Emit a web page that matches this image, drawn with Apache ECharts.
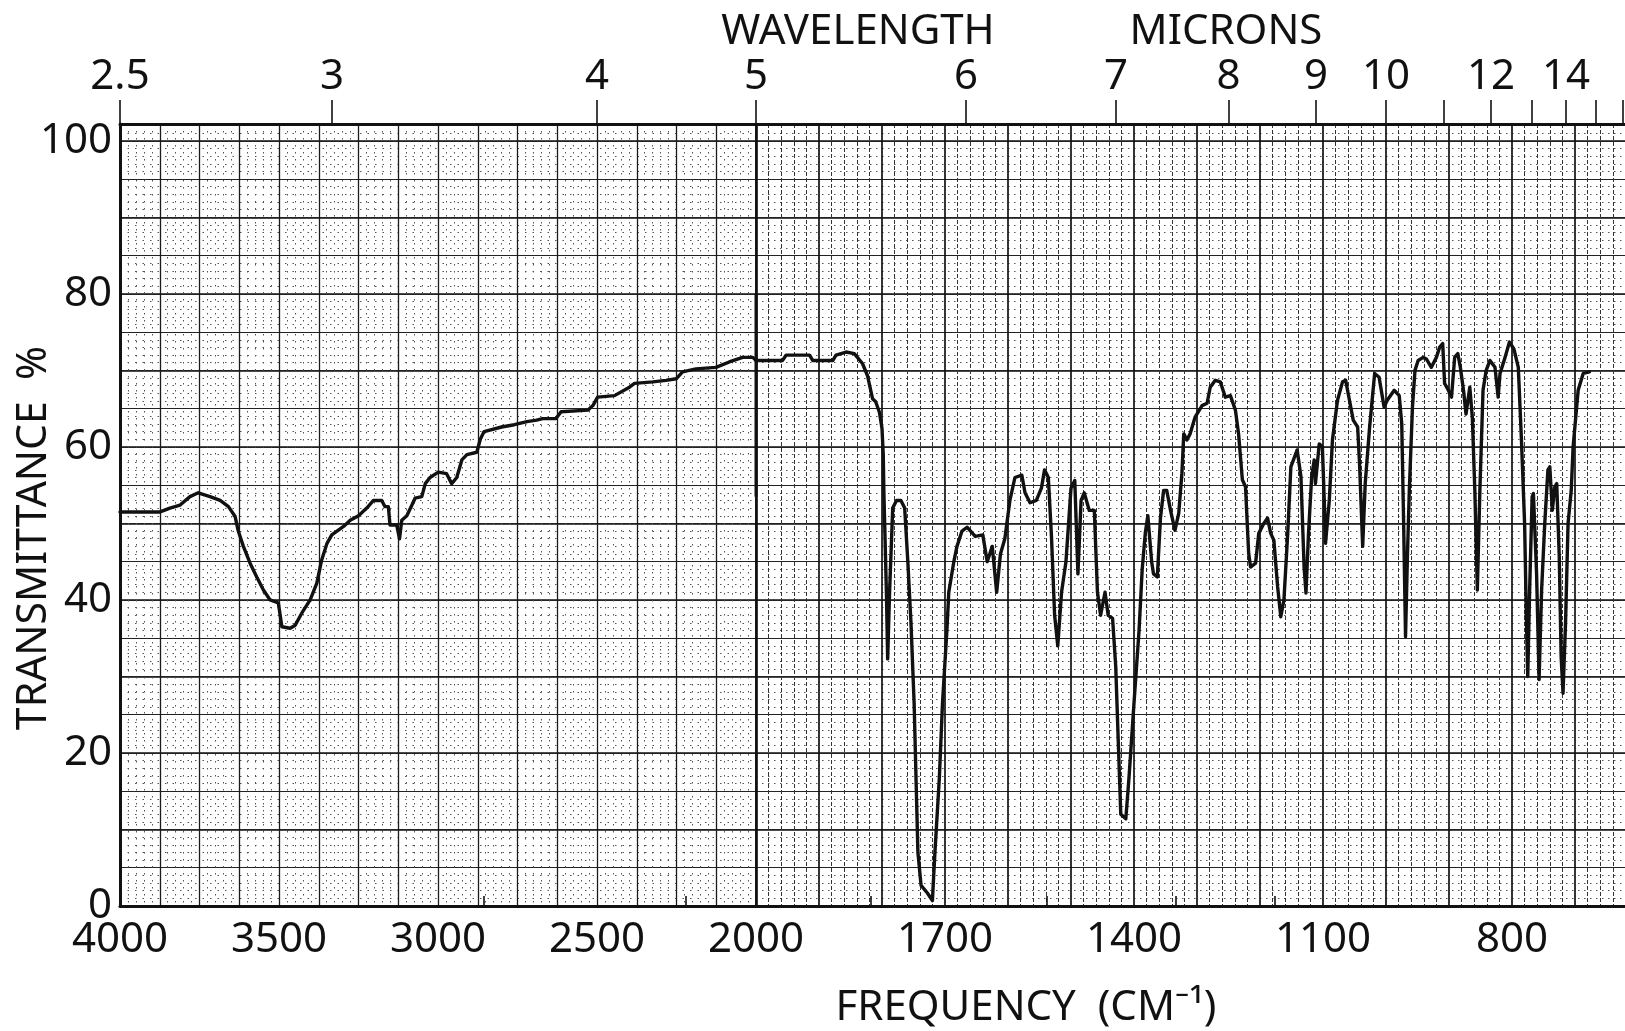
<!DOCTYPE html>
<html><head><meta charset="utf-8">
<script src="https://cdn.jsdelivr.net/npm/echarts@6/dist/echarts.min.js"></script>
<style>html,body{margin:0;padding:0;background:#fff}#chart{width:1625px;height:1031px}</style>
</head><body><div id="chart"></div>
<script>
// ---- data ----
const wavenumber = [
 4000,3950,3874,3843,3811,3780,3754,3717,3685,3659,3638,3628,3612,3591,3570,3549,3528,3502,3491,3465,3449,3428,3402,3381,3366,3349,3334,3297,3276,3250,3224,3203,3177,3167,3156,3151,3130,3121,3114,3098,3082,3072,3051,3040,3025,2999,2973,2957,2941,2925,2909,2878,2867,2855,2800,2760,2720,2690,2671,2629,2613,2529,2513,2498,2445,2398,2382,2325,2283,2251,2231,2189,2126,2084,2042,2010,2000,
 1958,1952,1915,1910,1878,1873,1857,1844,1831,1823,1815,1810,1804,1800,1798,1797,1793,1791,1788,1783,1777,1770,1764,1759,1754,1749,1746,1743,1738,1728,1720,1716,1709,1704,1697,1694,1686,1681,1673,1665,1652,1640,1633,1625,1618,1612,1605,1597,1589,1578,1573,1565,1555,1547,1542,1536,1531,1526,1521,1515,1508,1500,1494,1489,1484,1479,1471,1463,1458,1453,1446,1441,1434,1429,1425,1421,1413,1408,1400,1392,1387,1382,1378,1372,1369,1363,1358,1353,1348,1342,1335,1329,1324,1321,1316,1311,1303,1292,1284,1279,1271,1263,1255,1247,1239,1234,1228,1223,1218,1215,1207,1202,1194,1188,1183,1178,1172,1167,1162,1156,1151,1141,1135,1130,1127,1123,1118,1114,1112,1106,1101,1098,1096,1090,1085,1077,1069,1064,1058,1052,1045,1042,1037,1033,1026,1018,1011,1003,998,987,979,975,972,969,966,963,958,954,949,941,936,928,920,915,910,907,901,896,891,886,882,877,873,867,863,859,855,851,846,841,835,827,822,819,811,804,797,790,785,780,777,775,772,768,766,761,757,753,748,743,740,736,732,729,725,722,719,715,711,706,703,695,687,677
];
const transmittance = [
 51.5,51.5,51.5,52,52.4,53.5,54,53.5,53,52.2,50.9,49,47,44.8,43,41.3,40,39.6,36.5,36.3,36.7,38.3,40,42.2,45.2,47.4,48.5,49.6,50.4,51,52,53,53,52.2,52.2,49.8,49.8,48,50.4,51,52.4,53.3,53.5,55.2,56,56.7,56.5,55.2,56,58.3,59,59.3,61,62,62.6,62.9,63.3,63.5,63.7,63.7,64.6,64.8,65.4,66.5,66.7,67.8,68.3,68.5,68.7,68.9,69.8,70.2,70.4,71.1,71.7,71.7,71.3,
 71.3,72,72,71.3,71.3,72,72.4,72.2,70.9,69.3,66.3,65.9,64.5,62.4,59,54,41,32.3,41,52,53,53,52,45,37,26.5,16.7,7,2.7,1.7,0.7,7,16.7,26.5,36,41,45,47,49,49.5,48.3,48.5,45,47,41,46,48,53,56,56.3,54,52.7,53,54.6,57,56,48.3,38,34,41,45,54.6,55.6,43.4,53,54,51.7,51.7,41,38,41,38,37.6,31.3,21.6,12,11.4,16.7,26.5,36,44,48.8,51,45,43.4,43,50.7,54.3,54.3,51.7,49.1,51.3,56.5,61.7,60.9,61.7,63.9,65.4,65.7,67.8,68.7,68.5,66.5,66.7,64.8,61.7,55.7,54.8,46.1,44.3,44.8,48.7,50,50.7,48.7,47.8,41.7,37.8,40,48.7,57.4,59.6,56.1,44.3,40.9,48.7,56.1,58.3,55.2,60.4,60,53,47.4,53,60.9,66.1,68.5,68.7,66.1,63.5,62.6,57.8,47,55.2,62.6,69.6,69.1,65.2,66.1,67.4,66.7,63,50,35.2,45.7,54.3,65.2,70,71.3,71.7,71.5,70.4,71.7,73,73.5,68.3,67.4,66.5,71.7,72.2,70.4,67.4,64.3,67.8,63.9,54.3,41.3,54.3,67.4,70,71.3,70.4,66.5,69.6,71.7,73.7,72.8,70.4,60.9,50,37,30,41.3,53.5,53.9,43.5,29.6,41.3,50,57,57.4,51.7,54.8,55.2,45.7,32.6,27.8,37,50,54.3,60,67.4,69.6,69.8
];
const scaleMarkWavenumber = [2000, 2000];
const scaleMarkTransmittance = [53.5, 80];
const freqLabelsLeft = [4000, 3500, 3000, 2500, 2000];
const freqLabelsRight = [1700, 1400, 1100, 800];
const micronMajorTicks = [2.5, 3, 4, 5, 6, 7, 8, 9, 10, 11, 12, 13, 14, 15, 16];
const micronMinorTicks = [3.5, 4.5, 5.5, 6.5, 7.5, 8.5];
const micronLabels = [2.5, 3, 4, 5, 6, 7, 8, 9, 10, 12, 14];
const transmittanceLabels = [0, 20, 40, 60, 80, 100];

// ---- build ----
const FONT = "'Noto Sans', 'DejaVu Sans', sans-serif";
const INK = '#111';
const toWn = um => 10000 / um;
const leftData = [], rightData = [];
wavenumber.forEach((w, i) => {
  if (w >= 2000) leftData.push([w, transmittance[i]]);
  if (w <= 2000) rightData.push([w, transmittance[i]]);
});
const markData = scaleMarkWavenumber.map((w, i) => [w, scaleMarkTransmittance[i]]);

const leftMajor = micronMajorTicks.filter(u => u <= 5).map(toWn);
const rightMajor = micronMajorTicks.filter(u => u > 5).map(toWn);
const leftMinor = micronMinorTicks.filter(u => u <= 5).map(toWn);
const rightMinor = micronMinorTicks.filter(u => u > 5).map(toWn);
const leftLab = micronLabels.filter(u => u <= 5).map(toWn);
const rightLab = micronLabels.filter(u => u > 5).map(toWn);
const micronFmt = v => { const u = Math.round(10000 / v * 10) / 10; return String(u); };

const Y_MAX = 102.2;
const gridTop = 124, gridH = 782;
const grids = [
  {left: 120, top: gridTop, width: 636, height: gridH},
  {left: 756, top: gridTop, width: 882, height: gridH},
  {left: 120, top: gridTop, width: 636, height: gridH},
  {left: 756, top: gridTop, width: 882, height: gridH}
].map(g => Object.assign(g, {containLabel: false, outerBoundsMode: 'none', show: false}));

const labelStyle = {color: INK, fontSize: 42, fontFamily: FONT};
const hidden = {show: false};

const xAxes = [
  { gridIndex: 0, type: 'value', min: 2000, max: 4000, inverse: true, position: 'bottom', interval: 125,
    axisLine: {show: true, lineStyle: {color: INK, width: 3}}, axisTick: hidden,
    axisLabel: Object.assign({margin: 13, formatter: v => freqLabelsLeft.includes(v) ? String(v) : ''}, labelStyle),
    splitLine: {show: true, lineStyle: {color: '#1a1a1a', width: 1.3}},
    minorTick: {show: false, splitNumber: 5},
    minorSplitLine: {show: true, lineStyle: {color: '#555', width: 1, type: [1.5, 5.5]}} },
  { gridIndex: 1, type: 'value', min: 600, max: 2000, inverse: true, position: 'bottom', interval: 100,
    axisLine: {show: true, lineStyle: {color: INK, width: 3}}, axisTick: hidden,
    axisLabel: Object.assign({margin: 13, formatter: v => freqLabelsRight.includes(v) ? String(v) : ''}, labelStyle),
    splitLine: {show: true, lineStyle: {color: '#111', width: 1.7}},
    minorTick: {show: false, splitNumber: 5},
    minorSplitLine: {show: true, lineStyle: {color: '#333', width: 1, type: [4, 2]}} },
  { gridIndex: 0, type: 'value', min: 2000, max: 4000, inverse: true, position: 'top',
    axisLine: {show: true, lineStyle: {color: INK, width: 3}},
    axisTick: {show: true, inside: false, length: 24, customValues: leftMajor, lineStyle: {color: INK, width: 1.6}},
    axisLabel: Object.assign({margin: 26, customValues: leftLab, formatter: micronFmt}, labelStyle),
    splitLine: hidden },
  { gridIndex: 1, type: 'value', min: 600, max: 2000, inverse: true, position: 'top',
    axisLine: {show: true, lineStyle: {color: INK, width: 3}},
    axisTick: {show: true, inside: false, length: 24, customValues: rightMajor, lineStyle: {color: INK, width: 1.6}},
    axisLabel: Object.assign({margin: 26, customValues: rightLab, formatter: micronFmt}, labelStyle),
    splitLine: hidden },
  { gridIndex: 2, type: 'value', min: 2000, max: 4000, inverse: true, position: 'top',
    axisLine: hidden, axisLabel: hidden, splitLine: hidden,
    axisTick: {show: true, inside: false, length: 10, customValues: leftMinor, lineStyle: {color: INK, width: 1.6}} },
  { gridIndex: 3, type: 'value', min: 600, max: 2000, inverse: true, position: 'top',
    axisLine: hidden, axisLabel: hidden, splitLine: hidden,
    axisTick: {show: true, inside: false, length: 10, customValues: rightMinor, lineStyle: {color: INK, width: 1.6}} }
];

const yAxes = [
  { gridIndex: 0, type: 'value', min: 0, max: Y_MAX, interval: 10,
    axisLine: {show: true, lineStyle: {color: INK, width: 3}}, axisTick: hidden,
    axisLabel: Object.assign({margin: 8, formatter: v => transmittanceLabels.includes(v) ? String(v) : ''}, labelStyle),
    splitLine: {show: true, lineStyle: {color: '#111', width: 1.7}},
    minorTick: {show: false, splitNumber: 10},
    minorSplitLine: {show: true, lineStyle: {color: '#555', width: 1, type: [1.5, 6]}} },
  { gridIndex: 1, type: 'value', min: 0, max: Y_MAX, interval: 10,
    axisLine: {show: true, lineStyle: {color: INK, width: 2.6}}, axisTick: hidden, axisLabel: hidden,
    splitLine: {show: true, lineStyle: {color: '#111', width: 1.7}},
    minorTick: {show: false, splitNumber: 10},
    minorSplitLine: {show: true, lineStyle: {color: '#555', width: 1, type: [1.5, 4.5]}} },
  { gridIndex: 2, type: 'value', min: 0, max: Y_MAX, interval: 5,
    axisLine: hidden, axisTick: hidden, axisLabel: hidden,
    splitLine: {show: true, lineStyle: {color: '#222', width: 1}} },
  { gridIndex: 3, type: 'value', min: 0, max: Y_MAX, interval: 5,
    axisLine: hidden, axisTick: hidden, axisLabel: hidden,
    splitLine: {show: true, lineStyle: {color: '#222', width: 1}} }
];

const lineBase = {type: 'line', symbol: 'none', smooth: false, silent: true, animation: false,
  lineStyle: {color: INK, width: 3.4, join: 'round', cap: 'round'}, z: 5};

const titleFont = `42px ${FONT}`;
const option = {
  backgroundColor: '#ffffff',
  animation: false,
  grid: grids,
  xAxis: xAxes,
  yAxis: yAxes,
  series: [
    Object.assign({}, lineBase, {name: 'spectrum 4000-2000', xAxisIndex: 0, yAxisIndex: 0, data: leftData}),
    Object.assign({}, lineBase, {name: 'spectrum 2000-600', xAxisIndex: 1, yAxisIndex: 1, data: rightData}),
    Object.assign({}, lineBase, {name: 'scale change', xAxisIndex: 1, yAxisIndex: 1, data: markData, clip: false,
      lineStyle: {color: INK, width: 3}})
  ],
  graphic: [
    {type: 'text', x: 858, y: 32, style: {text: 'WAVELENGTH', align: 'center', verticalAlign: 'middle', textAlign: 'center', textVerticalAlign: 'middle', fill: INK, font: titleFont}},
    {type: 'text', x: 1226, y: 32, style: {text: 'MICRONS', align: 'center', verticalAlign: 'middle', textAlign: 'center', textVerticalAlign: 'middle', fill: INK, font: titleFont}},
    {type: 'text', x: 1026, y: 1008, style: {text: 'FREQUENCY  (CM⁻¹)', align: 'center', verticalAlign: 'middle', textAlign: 'center', textVerticalAlign: 'middle', fill: INK, font: titleFont}},
    {type: 'text', x: 34, y: 538, rotation: Math.PI / 2, style: {text: 'TRANSMITTANCE  %', align: 'center', verticalAlign: 'middle', textAlign: 'center', textVerticalAlign: 'middle', fill: INK, font: `41px ${FONT}`}}
  ]
};
const chart = echarts.init(document.getElementById('chart'), null, {renderer: 'canvas', width: 1625, height: 1031});
chart.setOption(option);
</script></body></html>
